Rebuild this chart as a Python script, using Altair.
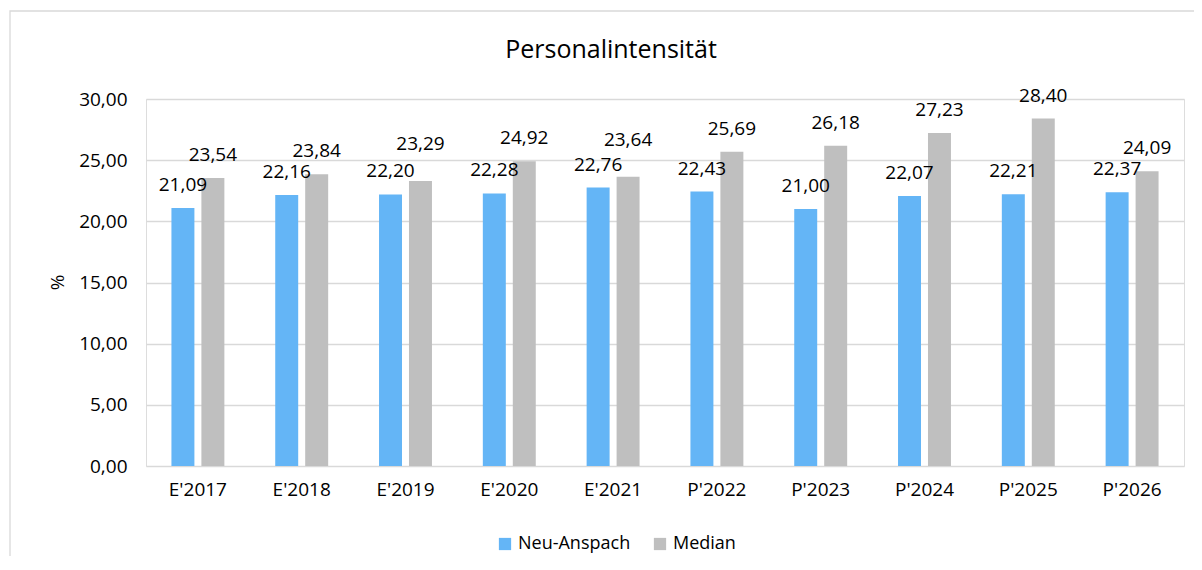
import altair as alt
import pandas as pd

categories = ["E'2017", "E'2018", "E'2019", "E'2020", "E'2021",
              "P'2022", "P'2023", "P'2024", "P'2025", "P'2026"]
neu_anspach = [21.09, 22.16, 22.20, 22.28, 22.76, 22.43, 21.00, 22.07, 22.21, 22.37]
median = [23.54, 23.84, 23.29, 24.92, 23.64, 25.69, 26.18, 27.23, 28.40, 24.09]
series_names = ["Neu-Anspach", "Median"]
y_ticks = [0, 5, 10, 15, 20, 25, 30]
chart_title = "Personalintensität"

FONT = "Open Sans"
FS = 19
PLOT_W, PLOT_H = 1038, 367
Y_MAX = 30
LABEL_H = 16  # px height of a value label, used to avoid label collisions

rows = []
for c, a, m in zip(categories, neu_anspach, median):
    gap_px = (m - a) * PLOT_H / Y_MAX
    lifted = bool(gap_px < LABEL_H)  # upper label would collide with the lower one
    rows.append({"cat": c, "series": series_names[0], "value": a, "lifted": False})
    rows.append({"cat": c, "series": series_names[1], "value": m, "lifted": lifted})
df = pd.DataFrame(rows)

x_enc = alt.X("cat:N", sort=categories, title=None,
              scale=alt.Scale(paddingInner=0.49, paddingOuter=0.245),
              axis=alt.Axis(domain=False, ticks=False, labelAngle=0,
                            labelPadding=14, labelFontSize=FS,
                            labelColor="#000000", labelFont=FONT))
xoff_enc = alt.XOffset("series:N", sort=series_names,
                       scale=alt.Scale(paddingInner=0.233, paddingOuter=0))
y_enc = alt.Y("value:Q", scale=alt.Scale(domain=[0, Y_MAX], nice=False),
              axis=alt.Axis(values=y_ticks, title="%", domain=False, ticks=False,
                            labelExpr="replace(format(datum.value, '.2f'), '.', ',')",
                            labelPadding=19, labelFontSize=FS, labelColor="#000000",
                            labelFont=FONT, gridColor="#D9D9D9", gridWidth=1.3,
                            titleAngle=-90, titleX=-89, titleY=183,
                            titleAlign="center", titleBaseline="middle",
                            titleFontSize=FS, titleFontWeight="normal",
                            titleFont=FONT, titleColor="#000000"))
color_enc = alt.Color("series:N", sort=series_names,
                      scale=alt.Scale(domain=series_names, range=["#64B5F6", "#BFBFBF"]),
                      legend=alt.Legend(title=None, orient="none", direction="horizontal",
                                        legendX=350, legendY=436, symbolType="square",
                                        symbolSize=150, symbolStrokeWidth=0,
                                        labelFontSize=FS - 1, labelFont=FONT,
                                        labelColor="#000000", labelOffset=4,
                                        columnPadding=20))

base = alt.Chart(df).encode(x=x_enc, xOffset=xoff_enc, y=y_enc)

bars = base.mark_bar().encode(color=color_enc)

label_calc = "replace(format(datum.value, '.2f'), '.', ',')"
labels = base.mark_text(dy=-23, baseline="middle", fontSize=FS, font=FONT,
                        color="#000000").transform_filter(
    "!datum.lifted").transform_calculate(label=label_calc).encode(text="label:N")
labels_lifted = base.mark_text(dy=-37, baseline="middle", fontSize=FS, font=FONT,
                               color="#000000").transform_filter(
    "datum.lifted").transform_calculate(label=label_calc).encode(text="label:N")

one = pd.DataFrame({"t": [chart_title]})
frame = alt.Chart(one).mark_rect(
    fill=None, stroke="#D9D9D9", strokeWidth=1.3
).encode(x=alt.value(-136), x2=alt.value(1070), y=alt.value(-88), y2=alt.value(490))

title_mark = alt.Chart(one).mark_text(
    fontSize=25, font=FONT, color="#000000", align="center", baseline="middle"
).encode(text="t:N", x=alt.value(465), y=alt.value(-49))

chart = alt.layer(frame, bars, labels, labels_lifted, title_mark).properties(
    width=PLOT_W, height=PLOT_H,
    padding={"left": 138, "top": 91, "right": 10, "bottom": 90},
    autosize=alt.AutoSizeParams(type="none"),
).configure_view(stroke=None).configure(background="#FFFFFF")

chart.save("out.html", embed_options={"renderer": "svg", "actions": False})
